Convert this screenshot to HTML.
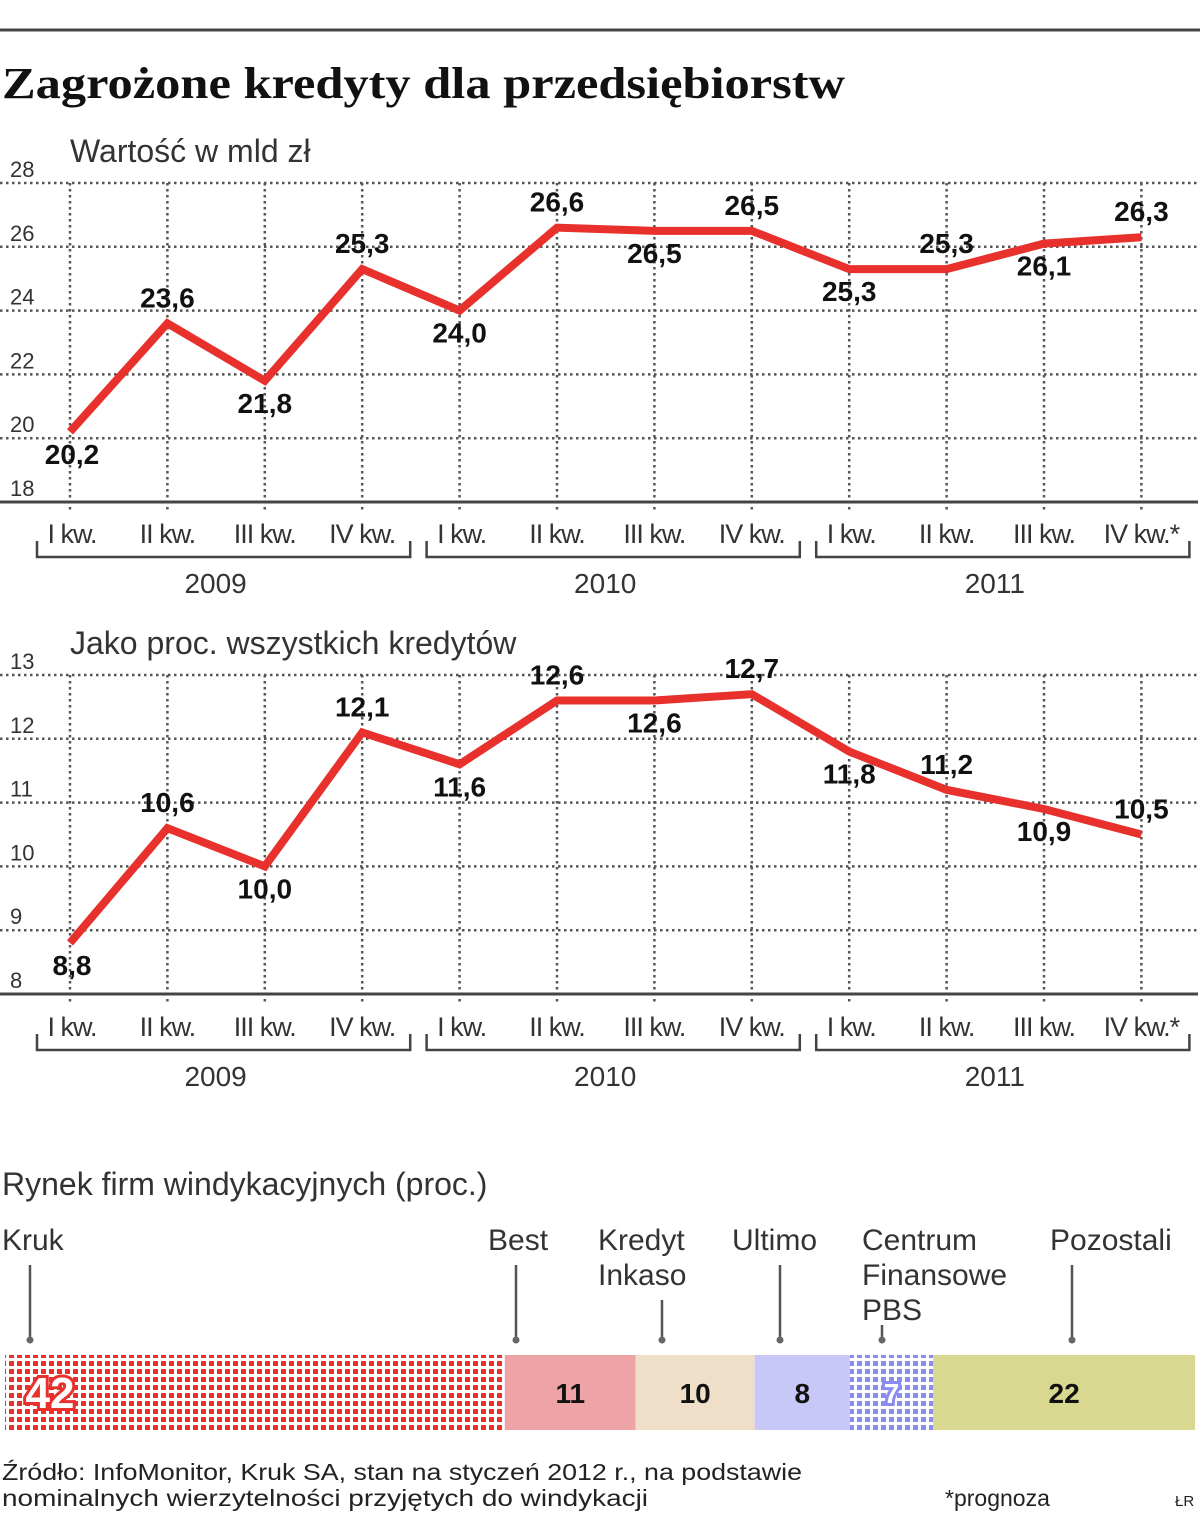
<!DOCTYPE html>
<html><head><meta charset="utf-8"><style>
body{margin:0;background:#fff;}
svg{display:block;font-family:"Liberation Sans",sans-serif;}
.lbl{font-weight:bold;font-size:28px;fill:#111;}
.ax{font-size:22px;fill:#333;}
.cat{font-size:27px;fill:#333;letter-spacing:-1px;}
.yr{font-size:28px;fill:#333;}
.t{font-size:32px;fill:#333;}
.nm{font-size:30px;fill:#333;}
</style></head><body>
<svg id="s" width="1200" height="1531" viewBox="0 0 1200 1531">
<defs>
<pattern id="dots" width="8" height="8" patternUnits="userSpaceOnUse"><rect width="8" height="8" fill="#fff"/><rect x="1" y="1" width="5" height="5" fill="#e8302c"/></pattern>
<pattern id="dotsb" width="8" height="8" patternUnits="userSpaceOnUse"><rect width="8" height="8" fill="#fff"/><rect x="1" y="1" width="5" height="5" fill="#8a8cf0"/></pattern>
</defs>
<line x1="0" y1="30" x2="1200" y2="30" stroke="#444" stroke-width="3"/>
<text x="2" y="98" font-family="Liberation Serif,serif" font-weight="bold" font-size="44" textLength="843" lengthAdjust="spacingAndGlyphs" fill="#111">Zagrożone kredyty dla przedsiębiorstw</text>
<text x="70" y="162" class="t">Wartość w mld zł</text>
<text x="70" y="654" class="t">Jako proc. wszystkich kredytów</text>
<g id="c1"></g>
<g id="c2"></g>
<g id="bar"></g>
<text x="2" y="1195" class="t">Rynek firm windykacyjnych (proc.)</text>
<text x="2" y="1480" font-size="23" fill="#222" textLength="800" lengthAdjust="spacingAndGlyphs">Źródło: InfoMonitor, Kruk SA, stan na styczeń 2012 r., na podstawie</text>
<text x="2" y="1506" font-size="23" fill="#222" textLength="646" lengthAdjust="spacingAndGlyphs">nominalnych wierzytelności przyjętych do windykacji</text>
<text x="945" y="1506" font-size="23" fill="#222">*prognoza</text>
<text x="1175" y="1506" font-size="15" fill="#222">ŁR</text>
</svg>
<script>
const categories=["I kw.","II kw.","III kw.","IV kw.","I kw.","II kw.","III kw.","IV kw.","I kw.","II kw.","III kw.","IV kw.*"];
const years=["2009","2010","2011"];
const values1=[20.2,23.6,21.8,25.3,24.0,26.6,26.5,26.5,25.3,25.3,26.1,26.3];
const values2=[8.8,10.6,10.0,12.1,11.6,12.6,12.6,12.7,11.8,11.2,10.9,10.5];
const ticks1=[18,20,22,24,26,28];
const ticks2=[8,9,10,11,12,13];
const shareNames=["Kruk","Best","Kredyt Inkaso","Ultimo","Centrum Finansowe PBS","Pozostali"];
const shareValues=[42,11,10,8,7,22];

const NS="http://www.w3.org/2000/svg";
function mk(p,tag,at){const e=document.createElementNS(NS,tag);for(const k in at)e.setAttribute(k,at[k]);p.appendChild(e);return e;}
const xOf=i=>70+i*97.4;
function chart(gid,vals,ticks,yTop,yBot,labY,side){
 const g=document.getElementById(gid);
 const lo=ticks[0],hi=ticks[ticks.length-1];
 const y=v=>yBot-(v-lo)/(hi-lo)*(yBot-yTop);
 ticks.forEach((t,k)=>{
  if(k>0){const l=mk(g,'line',{x1:0,x2:1198,y1:y(t),y2:y(t),stroke:'#555','stroke-width':2.5,'stroke-dasharray':'2.5 3.5'});
  
  }
  const tx=mk(g,'text',{x:10,y:y(t)-6,class:'ax'});tx.textContent=t;
  
  
 });
 categories.forEach((c,i)=>{
  const v=mk(g,'line',{x1:xOf(i),x2:xOf(i),y1:yTop,y2:yBot+8,stroke:'#555','stroke-width':2.5,'stroke-dasharray':'2.5 3.5'});
  
  
  const tx=mk(g,'text',{x:xOf(i)+(i%4==0?2:0),y:labY,class:'cat','text-anchor':'middle'});tx.textContent=c;
  
  
 });
 const base=mk(g,'line',{x1:0,x2:1198,y1:yBot,y2:yBot,stroke:'#444','stroke-width':3});
 
 
 years.forEach((yr,k)=>{
  const x0=xOf(k*4)-33,x1=xOf(k*4+3)+48,by=labY+14;
  const b=mk(g,'path',{d:`M${x0} ${by-16}V${by}H${x1}V${by-16}`,fill:'none',stroke:'#444','stroke-width':2.5});
  
  
  const t=mk(g,'text',{x:(x0+x1)/2-8,y:by+36,class:'yr','text-anchor':'middle'});t.textContent=yr;
  
  
 });
 const pl=mk(g,'polyline',{points:vals.map((v,i)=>xOf(i)+','+y(v)).join(' '),fill:'none',stroke:'#e8302c','stroke-width':8,'stroke-linejoin':'miter'});
 
 
 vals.forEach((v,i)=>{
  const up=side[i]>0;
  const t=mk(g,'text',{x:xOf(i)+(i==0?2:0),y:up?y(v)-16:y(v)+32,class:'lbl','text-anchor':'middle'});
  t.textContent=v.toFixed(1).replace('.',',');
  
  
 });
}
chart('c1',values1,ticks1,183,502,543,[-1,1,-1,1,-1,1,-1,1,-1,1,-1,1]);
chart('c2',values2,ticks2,675,994,1036,[-1,1,-1,1,-1,1,-1,1,-1,1,-1,1]);

const bg=document.getElementById('bar');
const fills=['url(#dots)','#eea3a6','#f0dfc8','#c8c8f8','url(#dotsb)','#d8d890'];
const nameX=[2,488,598,732,862,1050];
const ptrX=[30,516,662,780,882,1072];
const ptrY=[1265,1265,1300,1265,1325,1265];
let acc=5;const scale=1190/100;
shareValues.forEach((v,i)=>{
 const w=v*scale;
 const r=mk(bg,'rect',{x:acc,y:1355,width:w,height:75,fill:fills[i]});
 
 
 const special=i==0||i==4;
 const t=mk(bg,'text',{x:i==0?acc+45:acc+w/2,y:i==0?1408:1403,'text-anchor':'middle','font-weight':'bold','font-size':i==0?44:28,fill:special?'#fff':'#111',stroke:i==0?'#e8302c':(i==4?'#8a8cf0':'none'),'stroke-width':special?6:0,'paint-order':'stroke'});
 t.textContent=v;
 
 
 const lines=shareNames[i]=='Kredyt Inkaso'?['Kredyt','Inkaso']:shareNames[i]=='Centrum Finansowe PBS'?['Centrum','Finansowe','PBS']:[shareNames[i]];
 lines.forEach((ln,k)=>{
  const n=mk(bg,'text',{x:nameX[i],y:1250+k*35,class:'nm'});n.textContent=ln;
  
  
 });
 const p=mk(bg,'line',{x1:ptrX[i],x2:ptrX[i],y1:ptrY[i],y2:1340,stroke:'#555','stroke-width':2.5});
 
 
 const c=mk(bg,'circle',{cx:ptrX[i],cy:1340,r:3.5,fill:'#666'});
 
 
 acc+=w;
});
</script>
</body></html>
